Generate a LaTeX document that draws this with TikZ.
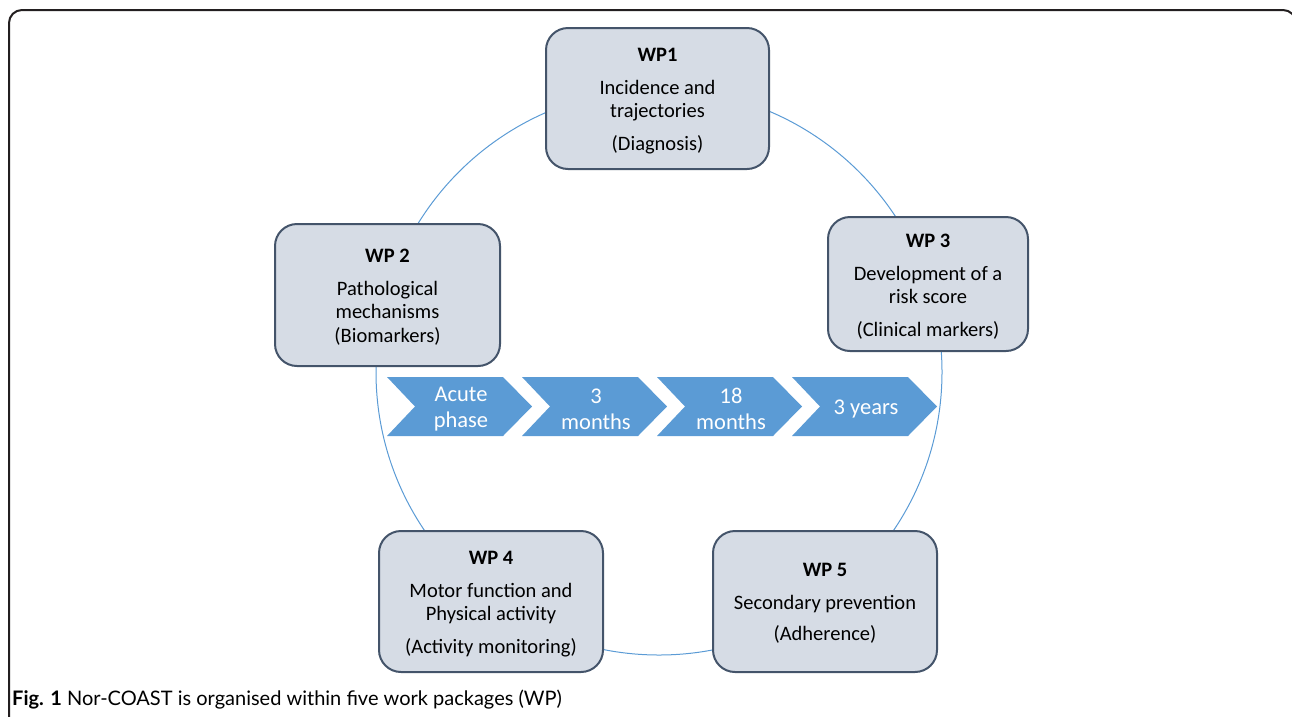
\documentclass[tikz,border=0pt]{standalone}
\usepackage{fontspec}
\setmainfont{Carlito}
\newfontfamily\capfont{Lato}
\definecolor{boxfill}{HTML}{D6DCE5}
\definecolor{boxline}{HTML}{44546A}
\definecolor{accent}{HTML}{5B9BD5}
\definecolor{framecol}{HTML}{231F20}
\tikzset{
  wpbox/.style={draw=boxline, fill=boxfill, line width=2pt, rounded corners=22pt, inner sep=0pt},
  wptext/.style={align=center, inner sep=0pt, font=\fontsize{20.5}{23.5}\selectfont},
  chev/.style={fill=accent, draw=none},
  chevtext/.style={text=white, align=center, inner sep=0pt, font=\fontsize{22.5}{26}\selectfont},
  ring/.style={draw=accent, line width=1pt}
}
\begin{document}
\begin{tikzpicture}[x=1pt,y=-1pt]
\useasboundingbox (0,0) rectangle (1292,716);
\begin{scope}
\clip (0,0) rectangle (1292,716);
\draw[framecol, line width=2pt, rounded corners=13pt] (9,10) rectangle (1296,760);
\end{scope}
% ring
\coordinate (ctr) at (659,372);
\draw[ring] (ctr) circle[radius=283pt];
% boxes
\node[wpbox, minimum width=223pt, minimum height=141pt] (wp1) at (657.5,98.5) {};
\node[wpbox, minimum width=225pt, minimum height=142pt] (wp2) at (387.5,295) {};
\node[wpbox, minimum width=200pt, minimum height=134pt] (wp3) at (928,284) {};
\node[wpbox, minimum width=224pt, minimum height=141pt] (wp4) at (491,601.5) {};
\node[wpbox, minimum width=224pt, minimum height=141pt] (wp5) at (825,601.5) {};
\node[wptext] (wp1t) at ([yshift=-2.5pt]wp1.center)
  {\textbf{WP1}\\[9pt] Incidence and\\ trajectories\\[9pt] (Diagnosis)};
\node[wptext] (wp2t) at ([yshift=-2pt]wp2.center)
  {\textbf{WP 2}\\[9pt] Pathological\\ mechanisms\\ (Biomarkers)};
\node[wptext] (wp3t) at ([yshift=-2.5pt]wp3.center)
  {\textbf{WP 3}\\[9pt] Development of a\\ risk score\\[9pt] (Clinical markers)};
\node[wptext] (wp4t) at ([yshift=-2.5pt]wp4.center)
  {\textbf{WP 4}\\[9pt] Motor function and\\ Physical activity\\[9pt] (Activity monitoring)};
\node[wptext] (wp5t) at ([yshift=-2pt]wp5.center)
  {\textbf{WP 5}\\[9pt] Secondary prevention\\[8pt] (Adherence)};
% chevrons
\foreach \L/\nm in {387/c1, 522/c2, 657/c3, 792/c4}{
  \fill[chev] (\L,377) -- ++(116,0) -- ++(29,29.5) -- ++(-29,29.5) -- ++(-116,0) -- ++(28,-29.5) -- cycle;
  \coordinate (\nm) at ({\L+74},409);
}
\node[chevtext] (t1) at (c1) {Acute\\phase};
\node[chevtext] (t2) at (c2) {3\\months};
\node[chevtext] (t3) at (c3) {18\\months};
\node[chevtext] (t4) at (c4) {3 years};
% caption
\node[anchor=base west, inner sep=0pt, font=\capfont\fontsize{20}{23}\selectfont] (cap) at (12,705)
  {\textbf{Fig. 1} Nor-COAST is organised within five work packages (WP)};
\end{tikzpicture}
\end{document}
